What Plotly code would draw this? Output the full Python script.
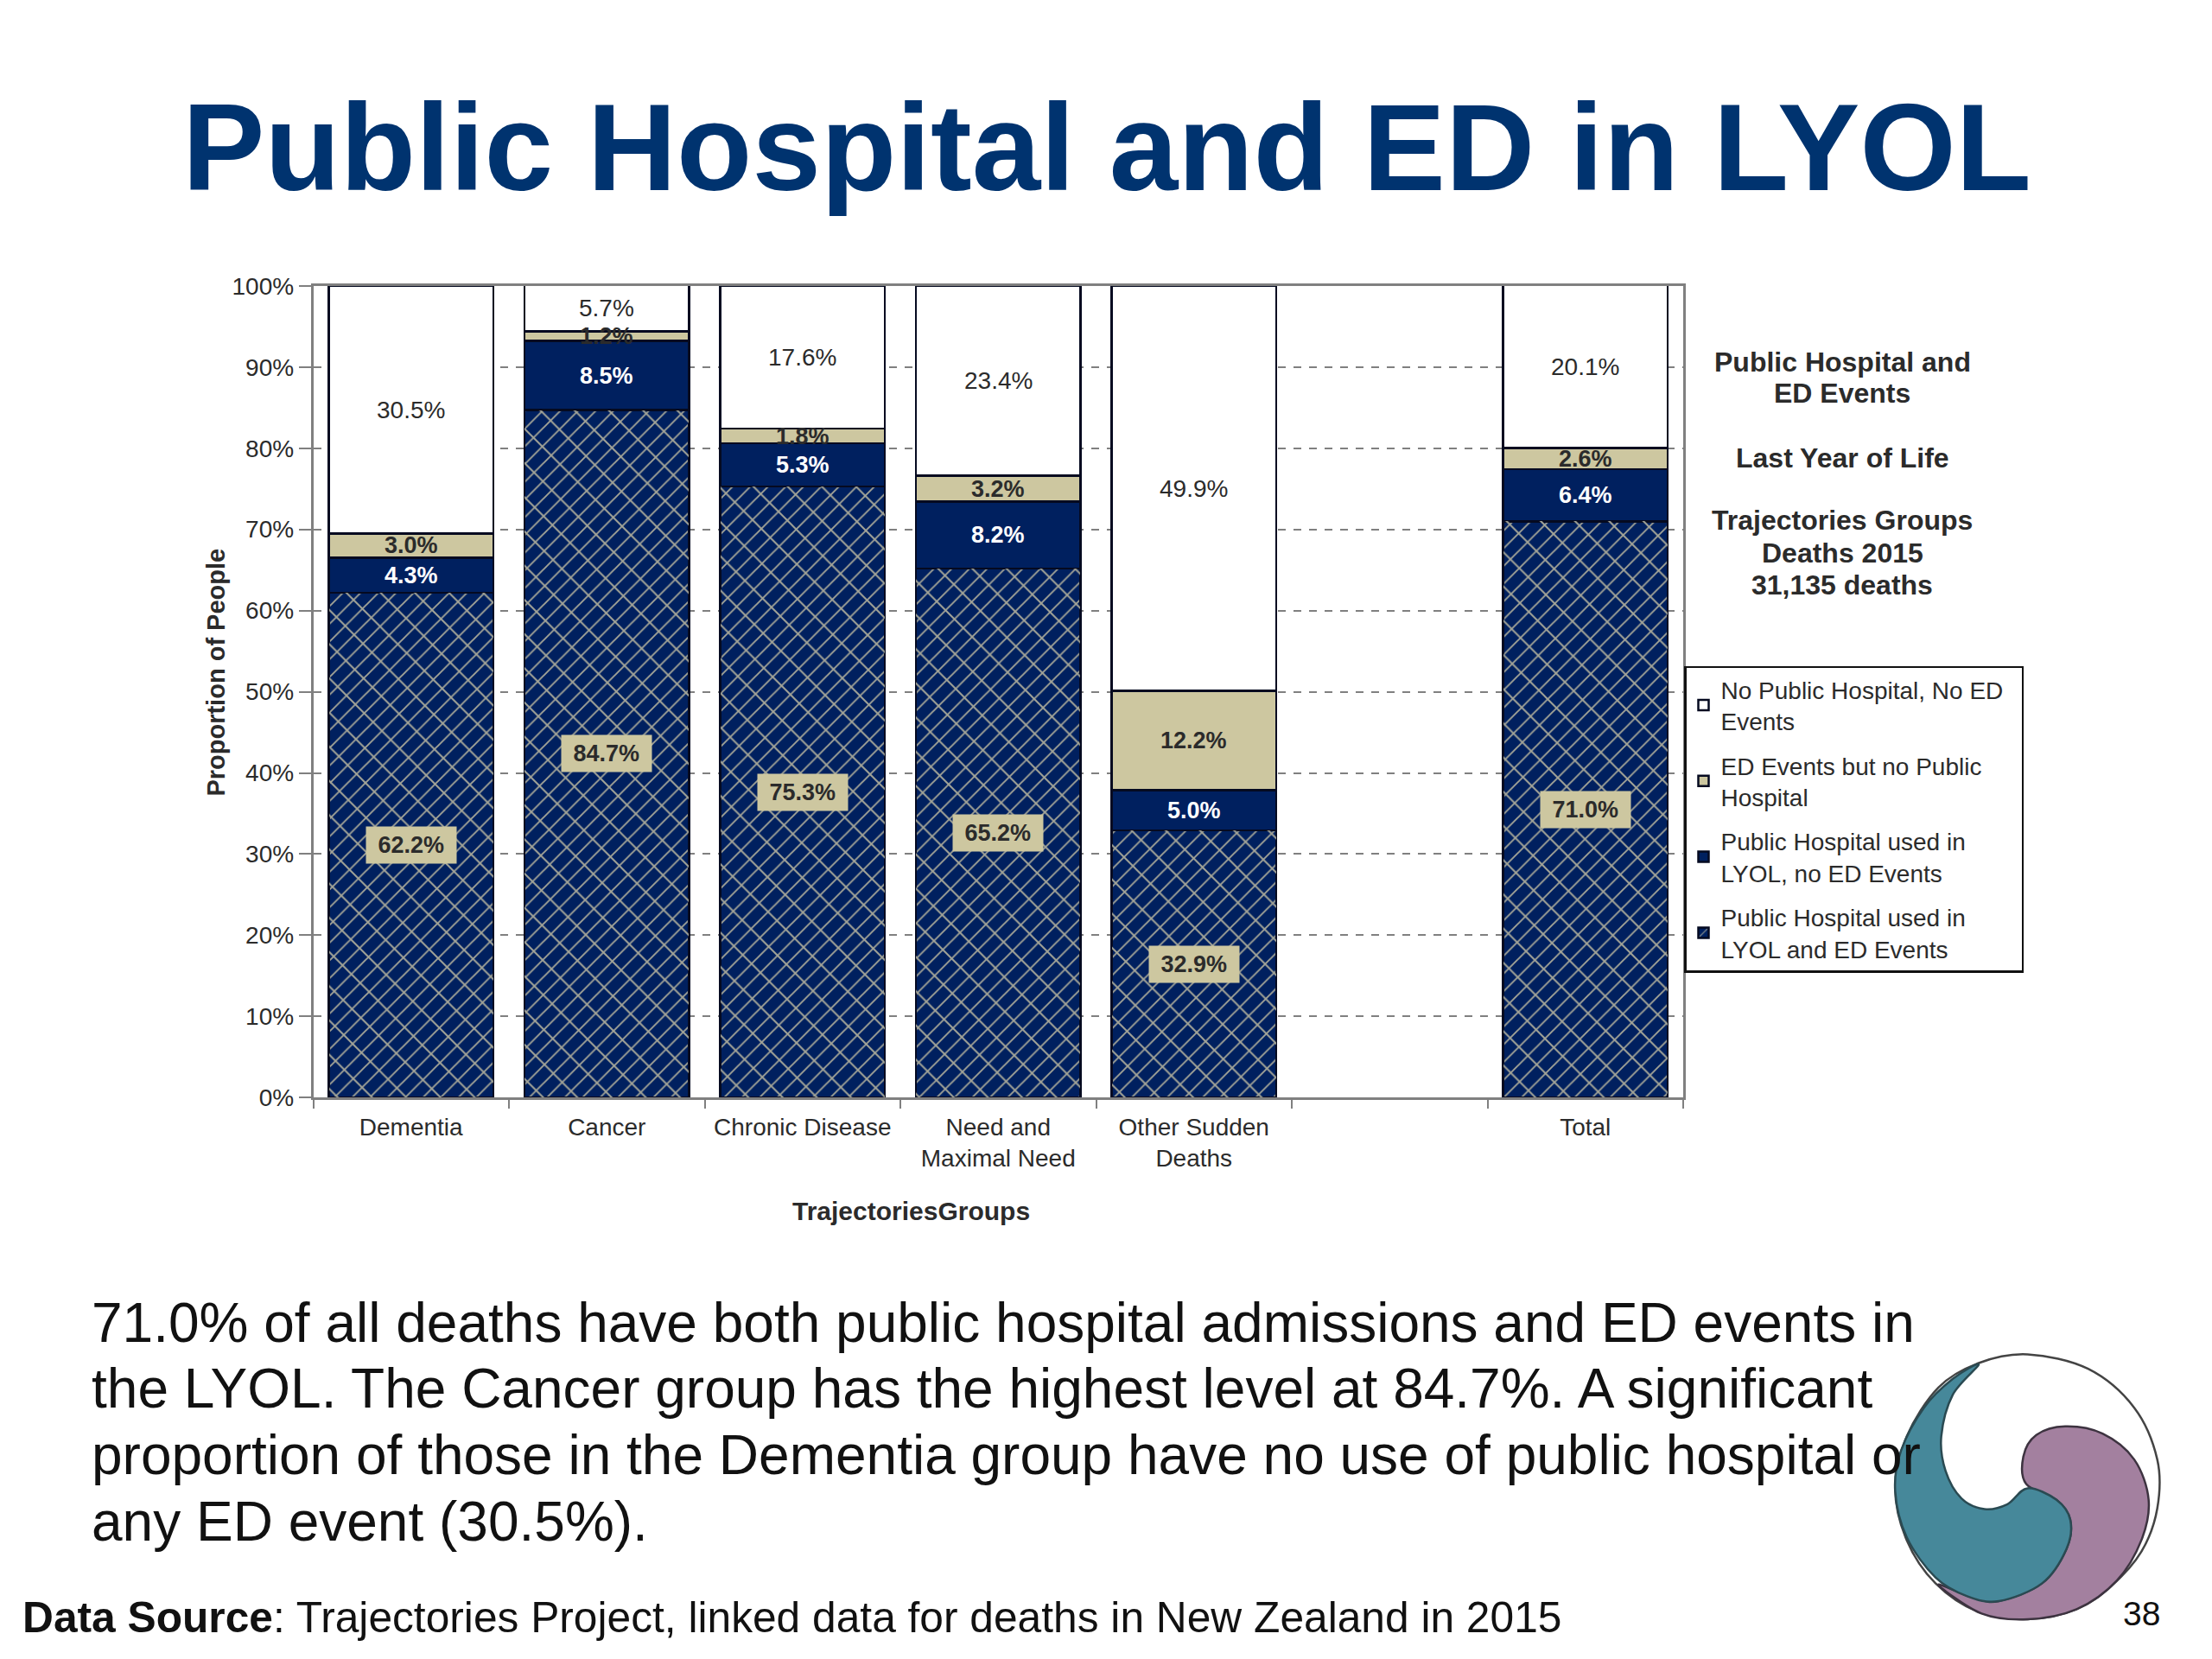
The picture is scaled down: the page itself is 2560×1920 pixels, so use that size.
import plotly.graph_objects as go

categories = ["Dementia", "Cancer", "Chronic Disease", "Need and<br>Maximal Need",
              "Other Sudden<br>Deaths", " ", "Total"]
both_events = [62.2, 84.7, 75.3, 65.2, 32.9, None, 71.0]
hospital_only = [4.3, 8.5, 5.3, 8.2, 5.0, None, 6.4]
ed_only = [3.0, 1.2, 1.8, 3.2, 12.2, None, 2.6]
neither = [30.5, 5.7, 17.6, 23.4, 49.9, None, 20.1]
series_names = ["Public Hospital used in<br>LYOL and ED Events",
                "Public Hospital used in<br>LYOL, no ED Events",
                "ED Events but no Public<br>Hospital",
                "No Public Hospital, No ED&nbsp;&nbsp;<br>Events"]
y_ticks = list(range(0, 101, 10))
y_tick_labels = [f"{v}%" for v in y_ticks]
title_text = "Public Hospital and ED in LYOL"
side_lines = ["Public Hospital and", "ED Events", "Last Year of Life",
              "Trajectories Groups", "Deaths 2015", "31,135 deaths"]
body_lines = ["71.0% of all deaths have both public hospital admissions and ED events in",
              "the LYOL. The Cancer group has the highest level at 84.7%. A significant",
              "proportion of those in the Dementia group have no use of public hospital or",
              "any ED event (30.5%)."]

W, H = 2560, 1920
S = 2560 / 1568
FONT = "Liberation Sans"
NAVY = "#00205F"
TAN = "#CDC7A0"
INK = "#2B2B2B"
M = 15  # paper area observed to sit this many px inside the page, top and bottom

def px(x): return x / W
def py(y): return 1 - (y - M) / (H - 2 * M)

def label(x, y, s, size, color=INK, bold=False, anchor="center", angle=0):
    return dict(xref="paper", yref="paper", x=px(x), y=py(y), text=f"<b>{s}</b>" if bold else s,
                showarrow=False, xanchor=anchor, yanchor="middle", textangle=angle,
                font=dict(family=FONT, size=size, color=color))

fig = go.Figure()
fig.add_bar(x=categories, y=both_events, name=series_names[0], legendgroup="a", legendrank=4,
            marker=dict(color=NAVY, line=dict(color="#050A20", width=2.5),
                        pattern=dict(shape="/", bgcolor=NAVY, fgcolor="#A3A497",
                                     size=14.5, solidity=0.13, fillmode="replace")))
fig.add_bar(x=categories, y=hospital_only, name=series_names[1], legendgroup="b", legendrank=3,
            marker=dict(color=NAVY, line=dict(color="#050A20", width=2.5)))
fig.add_bar(x=categories, y=ed_only, name=series_names[2], legendgroup="c", legendrank=2,
            marker=dict(color=TAN, line=dict(color="#050A20", width=2.5)))
fig.add_bar(x=categories, y=neither, name=series_names[3], legendgroup="d", legendrank=1,
            marker=dict(color="white", line=dict(color="#050A20", width=2.5)))
# second hatch direction: wider-spaced cross strokes give the brick look of the reference
fig.add_bar(x=categories, y=both_events, xaxis="x2", yaxis="y2", showlegend=False, hoverinfo="skip",
            marker=dict(color="rgba(0,0,0,0)", line=dict(width=0),
                        pattern=dict(shape="\\", bgcolor="rgba(0,0,0,0)", fgcolor="#A3A497",
                                     size=28, solidity=0.07, fillmode="replace")))

annotations = []
series_all = [both_events, hospital_only, ed_only, neither]
for i, cat in enumerate(categories):
    if both_events[i] is None:
        continue
    base = 0
    for k, s in enumerate(series_all):
        v = s[i]
        txt = f"{v:.1f}%"
        a = dict(x=cat, y=base + v / 2, xref="x", yref="y", showarrow=False,
                 xanchor="center", yanchor="middle")
        if k == 0:
            a.update(text=f"<b>&nbsp;{txt}&nbsp;</b>", bgcolor=TAN, borderpad=6,
                     font=dict(family=FONT, size=27, color=INK))
        elif k == 1:
            a.update(text=f"<b>{txt}</b>", font=dict(family=FONT, size=27, color="white"))
        elif k == 2:
            a.update(text=f"<b>{txt}</b>", font=dict(family=FONT, size=27, color=INK))
        else:
            a.update(text=txt, font=dict(family=FONT, size=28, color=INK))
        annotations.append(a)
        base += v

annotations.append(label(1281, 171, title_text, 143, "#00336F", True))
annotations.append(label(250, 779, "Proportion of People", 29, INK, True, angle=-90))
annotations.append(label(646 * S, 859 * S, "TrajectoriesGroups", 30, INK, True))
for s, y in zip(side_lines, [257, 279, 325, 369, 392, 415]):
    annotations.append(label(1306 * S, y * S, s, 32, INK, True))
for s, y in zip(body_lines, [938, 985, 1032, 1079]):
    annotations.append(label(64 * S, y * S, s, 64, "#111111", anchor="left"))
annotations.append(label(15 * S, 1147 * S, "<b>Data Source</b>: Trajectories Project, linked data for deaths in New Zealand in 2015",
                         49.7, "#111111", anchor="left"))
annotations.append(label(2478, 1868, "38", 39, "#111111"))

# Logo outline (zoomed crop coordinates)
def zoom_pt(p):
    return (2150 + p[0] / 3, 1540 + p[1] / 3)

def smooth_path(points, close=True):
    pts = [zoom_pt(p) for p in points]
    n = len(pts)
    d = f"M {px(pts[0][0]):.5f} {py(pts[0][1]):.5f}"
    for i in range(n if close else n - 1):
        p0, p1, p2, p3 = pts[(i - 1) % n], pts[i], pts[(i + 1) % n], pts[(i + 2) % n]
        c1 = (p1[0] + (p2[0] - p0[0]) / 6, p1[1] + (p2[1] - p0[1]) / 6)
        c2 = (p2[0] - (p3[0] - p1[0]) / 6, p2[1] - (p3[1] - p1[1]) / 6)
        d += (f" C {px(c1[0]):.5f} {py(c1[1]):.5f} {px(c2[0]):.5f} {py(c2[1]):.5f}"
              f" {px(p2[0]):.5f} {py(p2[1]):.5f}")
    return d + (" Z" if close else "")

circle = [(590, 85), (800, 135), (960, 270), (1040, 450), (1040, 620), (985, 770), (880, 890),
          (760, 970), (590, 1005), (420, 980), (270, 880), (170, 730), (130, 550), (170, 370),
          (280, 200), (420, 115)]
purple = [(585, 535), (575, 440), (620, 365), (720, 335), (850, 360), (960, 450), (1010, 590),
          (985, 730), (900, 870), (760, 970), (590, 1005), (430, 985), (280, 885), (400, 930),
          (490, 942), (640, 880), (725, 760), (738, 660), (690, 590)]
teal = [(420, 120), (330, 170), (230, 270), (150, 420), (130, 560), (170, 720), (270, 860),
        (380, 925), (490, 942), (640, 880), (725, 760), (738, 660), (690, 590), (590, 550),
        (520, 605), (440, 622), (360, 585), (305, 490), (290, 370), (330, 225)]
shapes = [
    dict(type="path", xref="paper", yref="paper", path=smooth_path(circle), fillcolor="white",
         line=dict(color="#444444", width=2.5), layer="below"),
    dict(type="path", xref="paper", yref="paper", path=smooth_path(purple), fillcolor="#A3809F",
         line=dict(color="#3D3340", width=2.5), layer="below"),
    dict(type="path", xref="paper", yref="paper", path=smooth_path(teal), fillcolor="#46889A",
         line=dict(color="#2A4A52", width=2.5), layer="below"),
]

dom_x = [px(362.5), px(1948)]
dom_y = [py(1271), py(331)]
fig.update_layout(
    width=W, height=H, barmode="stack", bargap=0.16, plot_bgcolor="white", paper_bgcolor="white",
    margin=dict(l=0, r=0, t=0, b=0), font=dict(family=FONT, size=27, color=INK),
    annotations=annotations, shapes=shapes,
    legend=dict(x=px(1949), y=py(771), xanchor="left", yanchor="top", bgcolor="white",
                bordercolor="#111111", borderwidth=2.5, tracegroupgap=12,
                traceorder="grouped", itemwidth=30,
                font=dict(family=FONT, size=28, color=INK)),
    xaxis=dict(domain=dom_x, type="category", categoryorder="array",
               categoryarray=categories, tickson="boundaries", ticks="outside", ticklen=10,
               ticklabelstandoff=7,
               tickcolor="#808080", tickwidth=2, showline=True, linecolor="#808080", linewidth=2.5,
               mirror=True, showgrid=False, tickangle=0, tickfont=dict(family=FONT, size=28, color=INK)),
    yaxis=dict(domain=dom_y, range=[0, 100], tickvals=y_ticks, ticktext=y_tick_labels,
               ticks="outside", ticklen=14, tickcolor="#808080", tickwidth=2, showline=True,
               linecolor="#808080", linewidth=2.5, mirror=True, showgrid=True, gridcolor="#808080",
               gridwidth=2, griddash="dash", zeroline=False, tickfont=dict(family=FONT, size=28, color=INK)),
    xaxis2=dict(domain=dom_x, type="category", categoryorder="array", categoryarray=categories,
                overlaying="x", visible=False),
    yaxis2=dict(domain=dom_y, range=[0, 100], overlaying="y", visible=False),
)

fig.write_html("out.html", config={"displayModeBar": False},
               post_script="document.body.style.margin='0';document.body.style.background='white';")
